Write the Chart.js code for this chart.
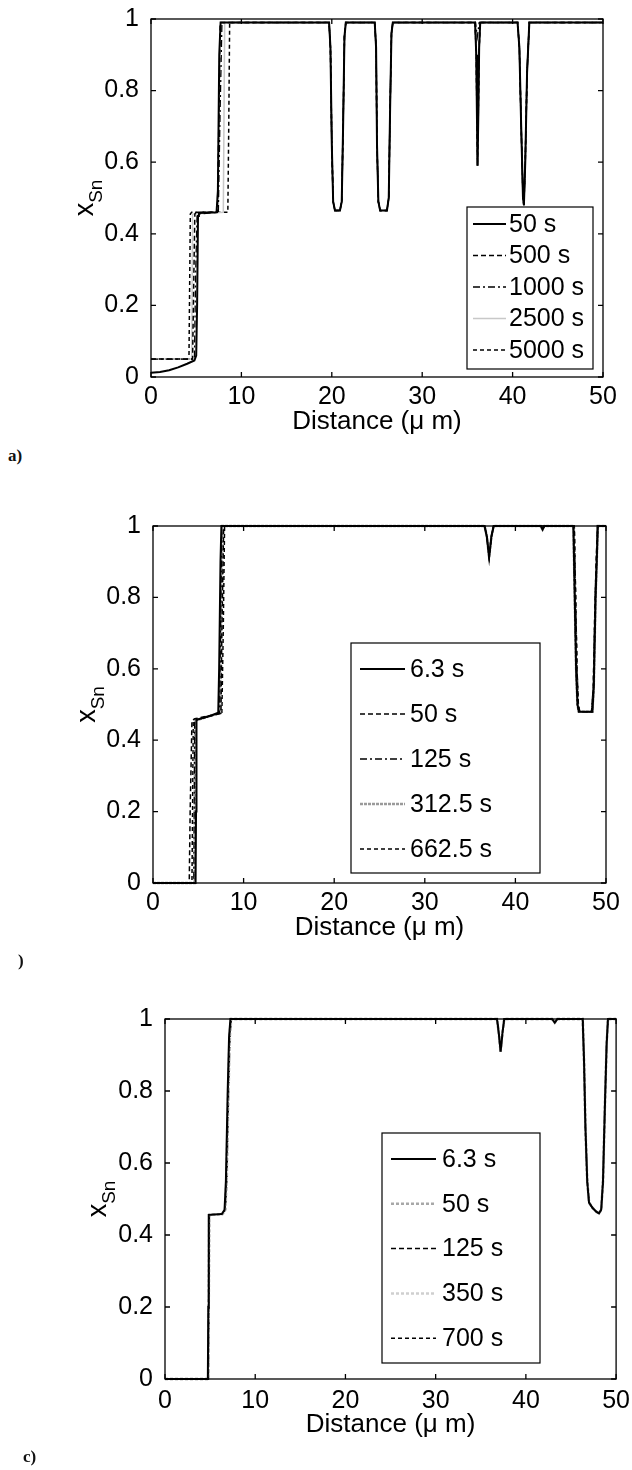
<!DOCTYPE html>
<html lang="en">
<head>
<meta charset="UTF-8">
<title>Sn fraction profiles</title>
<script src="https://cdn.jsdelivr.net/npm/chart.js"></script>
<style>
  body { margin: 0; padding: 0; background: #fff; width: 632px; height: 1470px; position: relative; overflow: hidden; }
  .panel { position: absolute; left: 0; width: 632px; }
  canvas { display: block; }
  .tag { position: absolute; font: bold 17px "Liberation Serif", "Times New Roman", serif; color: #111; }
</style>
</head>
<body>

<div class="panel" style="top:0"><canvas id="chartA" width="632" height="435"></canvas></div>
<div class="panel" style="top:500px"><canvas id="chartB" width="632" height="441"></canvas></div>
<div class="panel" style="top:1000px"><canvas id="chartC" width="632" height="438"></canvas></div>
<div class="tag" style="left:8px;top:446px">a)</div>
<div class="tag" style="left:18px;top:951px">)</div>
<div class="tag" style="left:23px;top:1447px">c)</div>

<script>
// axis ticks
var xTicks = [0, 10, 20, 30, 40, 50];
var yTicks = [0, 0.2, 0.4, 0.6, 0.8, 1];

// ---- panel a) ----
var labelsA = ['50 s', '500 s', '1000 s', '2500 s', '5000 s'];
var aTop = [[19.7,0.99],[19.85,0.92],[20.0,0.65],[20.15,0.49],[20.35,0.465],[20.9,0.465],[21.1,0.49],[21.25,0.7],[21.4,0.95],[21.55,0.99],
  [24.75,0.99],[24.9,0.92],[25.0,0.65],[25.15,0.49],[25.35,0.465],[26.1,0.465],[26.3,0.5],[26.45,0.75],[26.6,0.96],[26.75,0.99],
  [35.85,0.99],[35.98,0.9],[36.06,0.72],[36.12,0.59],[36.2,0.72],[36.3,0.92],[36.42,0.99],
  [40.55,0.99],[40.75,0.92],[40.95,0.7],[41.15,0.5],[41.25,0.48],[41.4,0.6],[41.6,0.85],[41.85,0.99],[50,0.99]];
var aTopShallow = [[19.7,0.99],[19.85,0.92],[20.0,0.65],[20.15,0.49],[20.35,0.465],[20.9,0.465],[21.1,0.49],[21.25,0.7],[21.4,0.95],[21.55,0.99],
  [24.75,0.99],[24.9,0.92],[25.0,0.65],[25.15,0.49],[25.35,0.465],[26.1,0.465],[26.3,0.5],[26.45,0.75],[26.6,0.96],[26.75,0.99],
  [35.9,0.99],[36.1,0.95],[36.3,0.99],
  [40.55,0.99],[40.75,0.92],[40.95,0.7],[41.15,0.5],[41.25,0.48],[41.4,0.6],[41.6,0.85],[41.85,0.99],[50,0.99]];
var a50 = [[0,0.012],[1,0.014],[2,0.019],[3,0.027],[4,0.037],[4.8,0.046],[5.0,0.06],[5.1,0.2],[5.2,0.45],[5.3,0.458],[7.25,0.46],[7.4,0.52],[7.55,0.9],[7.7,0.99]].concat(aTop);
var a500 = [[0,0.05],[4.6,0.05],[4.75,0.3],[4.85,0.455],[5.0,0.46],[7.35,0.46],[7.5,0.7],[7.65,0.99]].concat(aTop);
var a1000 = [[0,0.05],[4.8,0.05],[4.95,0.3],[5.1,0.455],[7.45,0.46],[7.65,0.75],[7.85,0.99]].concat(aTopShallow);
var a2500 = [[0,0.05],[4.5,0.05],[4.6,0.455],[8.0,0.46],[8.15,0.99]].concat(aTop);
var a5000 = [[0,0.05],[4.2,0.05],[4.35,0.455],[4.5,0.46],[8.5,0.46],[8.6,0.7],[8.7,0.99]].concat(aTop);

// ---- panel b) ----
var labelsB = ['6.3 s', '50 s', '125 s', '312.5 s', '662.5 s'];
var bTop = [[36.6,1],[36.85,0.97],[37.1,0.912],[37.35,0.97],[37.6,1],[42.8,1],[43.0,0.99],[43.2,1],
  [46.4,1],[46.55,0.8],[46.7,0.6],[46.85,0.5],[47.0,0.48],[48.5,0.48],[48.65,0.55],[48.85,0.8],[49.1,1],[50,1]];
var bTopWide = [[36.6,1],[36.85,0.97],[37.1,0.915],[37.35,0.97],[37.6,1],
  [46.5,1],[46.65,0.8],[46.8,0.6],[46.95,0.5],[47.1,0.48],[48.4,0.48],[48.6,0.55],[48.8,0.8],[49.05,1],[50,1]];
var b63 = [[0,0],[4.7,0],[4.75,0.2],[4.8,0.457],[5.5,0.462],[6.5,0.47],[7.2,0.477],[7.3,0.6],[7.45,0.9],[7.55,1]].concat(bTop);
var b50 = [[0,0],[4.0,0],[4.1,0.2],[4.3,0.455],[4.6,0.46],[7.5,0.475],[7.6,0.7],[7.8,1]].concat(bTopWide);
var b125 = [[0,0],[4.5,0],[4.6,0.455],[7.35,0.475],[7.45,0.7],[7.6,1]].concat(bTop);
var b312 = [[0,0],[4.6,0],[4.65,0.455],[7.4,0.476],[7.5,0.7],[7.65,1]].concat(bTop);
var b662 = [[0,0],[4.3,0],[4.45,0.455],[7.6,0.476],[7.75,0.7],[7.9,1]].concat(bTopWide);

// ---- panel c) ----
var labelsC = ['6.3 s', '50 s', '125 s', '350 s', '700 s'];
var cTop = [[36.8,1],[37.0,0.96],[37.2,0.909],[37.4,0.96],[37.6,1],[42.9,1],[43.2,0.99],[43.5,1],
  [46.3,1],[46.45,0.88],[46.6,0.7],[46.8,0.55],[47.0,0.49],[47.4,0.475],[47.8,0.465],[48.1,0.46],[48.35,0.47],[48.55,0.55],[48.75,0.75],[48.95,0.93],[49.1,1],[50,1]];
var c63 = [[0,0],[4.75,0],[4.8,0.2],[4.85,0.456],[6.3,0.458],[6.6,0.47],[6.75,0.55],[6.95,0.8],[7.1,0.95],[7.25,1]].concat(cTop);
var c50 = [[0,0],[4.8,0],[4.85,0.2],[4.9,0.456],[6.35,0.458],[6.65,0.47],[6.8,0.55],[7.0,0.8],[7.15,0.95],[7.3,1]].concat(cTop);
var c125 = [[0,0],[4.78,0],[4.83,0.2],[4.88,0.456],[6.3,0.458],[6.65,0.47],[6.8,0.55],[7.0,0.8],[7.15,0.95],[7.3,1]].concat(cTop);
var c350 = [[0,0],[4.8,0],[4.85,0.2],[4.9,0.456],[6.4,0.458],[6.7,0.47],[6.85,0.55],[7.05,0.8],[7.2,0.95],[7.35,1]].concat(cTop);
var c700 = [[0,0],[4.82,0],[4.87,0.2],[4.92,0.456],[6.4,0.458],[6.7,0.47],[6.85,0.55],[7.05,0.8],[7.2,0.95],[7.35,1]].concat(cTop);

var FONT = '"Liberation Sans", Arial, sans-serif';

// box around the axes with inward ticks, like matlab
var frame = {
  id: 'frame',
  afterDatasetsDraw: function(chart) {
    var ctx = chart.ctx, a = chart.chartArea, x = chart.scales.x, y = chart.scales.y;
    ctx.save();
    ctx.strokeStyle = '#000';
    ctx.lineWidth = 1.3;
    ctx.strokeRect(a.left, a.top, a.right - a.left, a.bottom - a.top);
    ctx.beginPath();
    x.ticks.forEach(function(t) {
      var p = x.getPixelForValue(t.value);
      ctx.moveTo(p, a.bottom); ctx.lineTo(p, a.bottom - 5);
      ctx.moveTo(p, a.top); ctx.lineTo(p, a.top + 5);
    });
    y.ticks.forEach(function(t) {
      var p = y.getPixelForValue(t.value);
      ctx.moveTo(a.left, p); ctx.lineTo(a.left + 5, p);
      ctx.moveTo(a.right, p); ctx.lineTo(a.right - 5, p);
    });
    ctx.stroke();
    ctx.restore();
  }
};

// y title x_Sn with subscript
var ySub = {
  id: 'ySub',
  afterDraw: function(chart, args, o) {
    var ctx = chart.ctx, a = chart.chartArea;
    var cy = (a.top + a.bottom) / 2;
    ctx.save();
    ctx.translate(o.bx, cy);
    ctx.rotate(-Math.PI / 2);
    ctx.fillStyle = '#000';
    ctx.textBaseline = 'alphabetic';
    ctx.font = '27px ' + FONT;
    var wx = ctx.measureText('x').width;
    ctx.font = '19px ' + FONT;
    var ws = ctx.measureText('Sn').width;
    var x0 = -(wx + ws) / 2;
    ctx.font = '27px ' + FONT;
    ctx.fillText('x', x0, 0);
    ctx.font = '19px ' + FONT;
    ctx.fillText('Sn', x0 + wx, o.sub);
    ctx.restore();
  }
};

// legend box inside the plot
var boxLegend = {
  id: 'boxLegend',
  afterDraw: function(chart, args, o) {
    var ctx = chart.ctx;
    ctx.save();
    ctx.fillStyle = '#fff';
    ctx.fillRect(o.x, o.y, o.w, o.h);
    ctx.strokeStyle = '#000';
    ctx.lineWidth = 1.2;
    ctx.strokeRect(o.x, o.y, o.w, o.h);
    chart.data.datasets.forEach(function(ds, i) {
      var yy = o.row0 + i * o.gap;
      ctx.beginPath();
      ctx.setLineDash(ds.borderDash || []);
      ctx.strokeStyle = ds.borderColor;
      ctx.lineWidth = ds.borderWidth;
      ctx.moveTo(o.line0, yy);
      ctx.lineTo(o.line1, yy);
      ctx.stroke();
      ctx.setLineDash([]);
      ctx.fillStyle = '#000';
      ctx.font = '25px ' + FONT;
      ctx.textBaseline = 'middle';
      ctx.fillText(ds.label, o.text, yy + 1);
    });
    ctx.restore();
  }
};

function makeChart(id, labels, series, styles, lay, legendOpts, yTitleOpts) {
  var datasets = series.map(function(s, i) {
    return {
      label: labels[i],
      data: s.map(function(p) { return {x: p[0], y: p[1]}; }),
      borderColor: styles[i].color,
      borderWidth: styles[i].width,
      borderDash: styles[i].dash,
      pointRadius: 0,
      tension: 0,
      fill: false,
      clip: 4
    };
  });
  return new Chart(document.getElementById(id), {
    type: 'line',
    data: { datasets: datasets },
    plugins: [frame, ySub, boxLegend],
    options: {
      responsive: false,
      animation: false,
      layout: { padding: { left: 0, right: lay.right, top: lay.top, bottom: 0 } },
      plugins: {
        legend: { display: false },
        tooltip: { enabled: false },
        boxLegend: legendOpts,
        ySub: yTitleOpts
      },
      scales: {
        x: {
          type: 'linear', min: 0, max: 50,
          grid: { display: false },
          border: { display: false },
          afterBuildTicks: function(s) { s.ticks = xTicks.map(function(v) { return {value: v}; }); },
          afterFit: function(s) { s.height = lay.xh; },
          ticks: { color: '#000', padding: lay.tp, maxRotation: 0, font: { family: FONT, size: 25, lineHeight: 1 },
                   callback: function(v) { return String(v); } },
          title: { display: true, text: 'Distance (\u03bc m)', color: '#000', padding: 0,
                   font: { family: FONT, size: 26, lineHeight: 1 } }
        },
        y: {
          type: 'linear', min: 0, max: 1,
          grid: { display: false },
          border: { display: false },
          afterBuildTicks: function(s) { s.ticks = yTicks.map(function(v) { return {value: v}; }); },
          afterFit: function(s) { s.width = lay.yw; },
          ticks: { color: '#000', padding: 4, font: { family: FONT, size: 25 },
                   callback: function(v) { return String(v); } }
        }
      }
    }
  });
}

var stylesA = [
  { color: '#000', width: 2, dash: [] },
  { color: '#000', width: 1.5, dash: [5, 3] },
  { color: '#000', width: 1.3, dash: [7, 3, 2, 3] },
  { color: '#c8c8c8', width: 1.5, dash: [] },
  { color: '#000', width: 1.5, dash: [4, 3] }
];
var stylesB = [
  { color: '#000', width: 2, dash: [] },
  { color: '#000', width: 1.5, dash: [5, 3] },
  { color: '#000', width: 1.3, dash: [7, 3, 2, 3] },
  { color: '#9a9a9a', width: 2.5, dash: [3, 1] },
  { color: '#000', width: 1.5, dash: [4, 3] }
];
var stylesC = [
  { color: '#000', width: 2, dash: [] },
  { color: '#a8a8a8', width: 2.5, dash: [3, 2] },
  { color: '#000', width: 1.5, dash: [5, 3] },
  { color: '#cfcfcf', width: 2.5, dash: [3, 2] },
  { color: '#000', width: 1.5, dash: [4, 3] }
];

makeChart('chartA', labelsA, [a50, a500, a1000, a2500, a5000], stylesA,
  { right: 29, top: 19, yw: 151, xh: 58, tp: 0 },
  { x: 467, y: 207, w: 126, h: 162, row0: 224, gap: 31.5, line0: 473, line1: 506, text: 509 },
  { bx: 93, sub: 9 });

makeChart('chartB', labelsB, [b63, b50, b125, b312, b662], stylesB,
  { right: 26, top: 26, yw: 153, xh: 58, tp: 0 },
  { x: 351, y: 143, w: 189, h: 230, row0: 169, gap: 45, line0: 360, line1: 405, text: 410 },
  { bx: 95, sub: 9 });

makeChart('chartC', labelsC, [c63, c50, c125, c350, c700], stylesC,
  { right: 15, top: 19, yw: 165, xh: 59, tp: 2 },
  { x: 382, y: 133, w: 158, h: 230, row0: 159, gap: 44.8, line0: 391, line1: 436, text: 442 },
  { bx: 106, sub: 9 });
</script>

</body>
</html>
